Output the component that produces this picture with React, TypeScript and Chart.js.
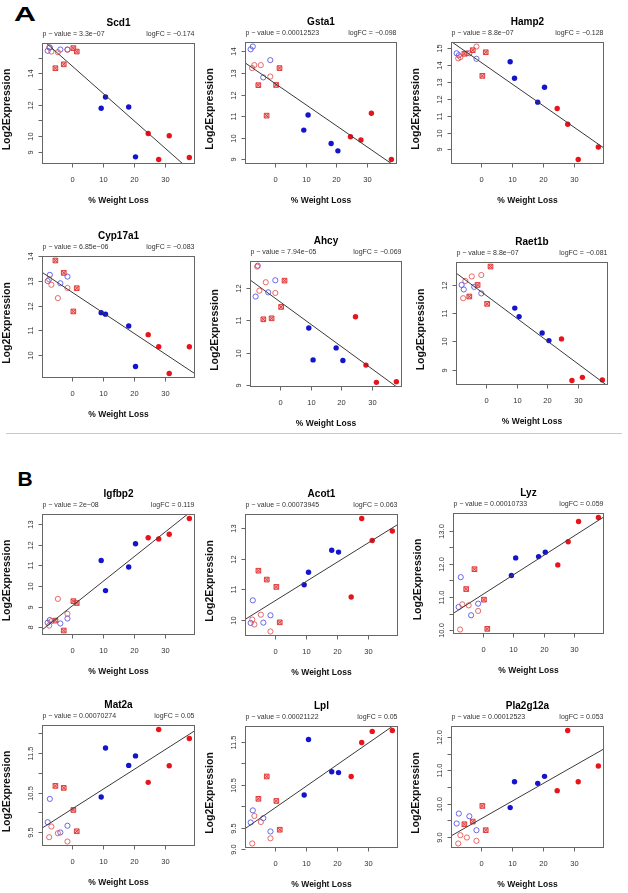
import React, { useEffect, useRef } from "react";
import { Chart, registerables } from "chart.js";
Chart.register(...registerables);

const FONT = '"Liberation Sans", Arial, Helvetica, sans-serif';

// % weight loss of each mouse, by group (shared by every gene)
const xOpenBlue = [-7.9, -7.2, -3.8, -1.5];
const xOpenRed = [-7.4, -6.7, -4.6, -1.5];
const xCrossRed = [-5.4, -2.7, 0.4, 1.5];
const xFilledBlue = [9.4, 10.8, 18.3, 20.5];
const xFilledRed = [24.6, 28.0, 31.4, 37.9];

const xTickValues = [0, 10, 20, 30];
const xTickLabels = ["0", "10", "20", "30"];

const genes = ["Scd1", "Gsta1", "Hamp2", "Cyp17a1", "Ahcy", "Raet1b", "Igfbp2", "Acot1", "Lyz", "Mat2a", "Lpl", "Pla2g12a"];
const pValues = ["3.3e\u221207", "0.00012523", "8.8e\u221207", "6.85e\u221206", "7.94e\u221205", "8.8e\u221207", "2e\u221208", "0.00073945", "0.00010733", "0.00070274", "0.00021122", "0.00012523"];
const logFCs = [-0.174, -0.098, -0.128, -0.083, -0.069, -0.081, 0.119, 0.063, 0.059, 0.05, 0.05, 0.053];

// Log2 expression per group: [open blue, open red, crossed red, filled blue, filled red]
const yScd1 = [[15.43, 15.64, 15.51, 15.51], [15.64, 15.38, 15.34, 15.5], [14.32, 14.57, 15.6, 15.38], [11.77, 12.49, 11.85, 8.68], [10.17, 8.51, 10.02, 8.64]];
const yGsta1 = [[14.1, 14.23, 12.8, 13.6], [13.23, 13.37, 13.37, 12.84], [12.44, 11.03, 12.45, 13.23], [10.36, 11.06, 9.74, 9.4], [10.05, 9.9, 11.14, 9.0]];
const yHamp2 = [[14.7, 14.58, 14.7, 14.37], [14.4, 14.47, 14.7, 15.1], [14.67, 14.88, 13.36, 14.76], [14.2, 13.22, 11.8, 12.68], [11.42, 10.49, 8.4, 9.14]];
const yCyp17a1 = [[13.0, 13.25, 12.91, 13.18], [13.07, 12.85, 12.31, 12.72], [13.83, 13.33, 11.77, 12.71], [11.72, 11.66, 11.18, 9.54], [10.83, 10.34, 9.26, 10.34]];
const yAhcy = [[11.73, 12.68, 11.86, 12.23], [12.65, 11.91, 12.17, 11.84], [11.03, 11.06, 11.41, 12.22], [10.76, 9.78, 10.15, 9.76], [11.11, 9.62, 9.09, 9.11]];
const yRaet1b = [[12.0, 11.84, 11.93, 11.7], [11.53, 12.14, 12.3, 12.35], [11.59, 12.0, 11.33, 12.65], [11.18, 10.88, 10.3, 10.03], [10.09, 8.62, 8.73, 8.64]];
const yIgfbp2 = [[8.22, 8.35, 8.18, 8.42], [8.08, 8.29, 9.37, 8.65], [8.32, 7.84, 9.26, 9.17], [11.23, 9.77, 10.91, 12.04], [12.33, 12.27, 12.5, 13.26]];
const yAcot1 = [[9.89, 10.63, 9.9, 10.14], [10.0, 9.84, 10.16, 9.61], [11.6, 11.31, 11.07, 9.91], [11.14, 11.55, 12.27, 12.21], [10.74, 13.31, 12.59, 12.9]];
const yLyz = [[10.7, 11.6, 10.45, 10.8], [10.02, 10.78, 10.75, 10.58], [11.24, 11.84, 10.92, 10.04], [11.65, 12.18, 12.22, 12.35], [11.97, 12.67, 13.28, 13.4]];
const yMat2a = [[9.75, 10.34, 9.49, 9.66], [9.37, 9.64, 9.47, 9.26], [10.67, 10.62, 10.06, 9.52], [10.39, 11.63, 11.19, 11.43], [10.76, 12.1, 11.18, 11.87]];
const yLpl = [[9.62, 9.9, 9.72, 9.41], [9.13, 9.77, 9.63, 9.25], [10.17, 10.69, 10.12, 9.45], [10.26, 11.55, 10.8, 10.78], [10.69, 11.48, 11.74, 11.76]];
const yPla2g12a = [[9.4, 9.7, 9.62, 9.2], [8.8, 9.05, 8.98, 8.88], [9.38, 9.46, 9.93, 9.2], [9.88, 10.66, 10.61, 10.82], [10.39, 12.2, 10.66, 11.13]];
const geneY = [yScd1, yGsta1, yHamp2, yCyp17a1, yAhcy, yRaet1b, yIgfbp2, yAcot1, yLyz, yMat2a, yLpl, yPla2g12a];

// y-axis tick values and their labels ("" = tick without label)
const yTicks = [
  [9, 10, 11, 12, 13, 14, 15],
  [9, 10, 11, 12, 13, 14],
  [9, 10, 11, 12, 13, 14, 15],
  [10, 11, 12, 13, 14],
  [9, 10, 11, 12],
  [9, 10, 11, 12],
  [8, 9, 10, 11, 12, 13],
  [10, 11, 12, 13],
  [10, 10.5, 11, 11.5, 12, 12.5, 13],
  [9.5, 10, 10.5, 11, 11.5, 12],
  [9, 9.5, 10, 10.5, 11, 11.5],
  [9, 9.5, 10, 10.5, 11, 11.5, 12],
];
const yTickLabels = [
  ["9", "10", "", "12", "", "14", ""],
  ["9", "10", "11", "12", "13", "14"],
  ["9", "10", "11", "12", "13", "14", "15"],
  ["10", "11", "12", "13", "14"],
  ["9", "10", "11", "12"],
  ["9", "10", "11", "12"],
  ["8", "9", "10", "11", "12", "13"],
  ["10", "11", "12", "13"],
  ["10.0", "", "11.0", "", "12.0", "", "13.0"],
  ["9.5", "", "10.5", "", "11.5", ""],
  ["9.0", "9.5", "", "10.5", "", "11.5"],
  ["9.0", "", "10.0", "", "11.0", "", "12.0"],
];

// layout: plot box [left, top, width, height] in page pixels
const BOXES = [
  [42, 43, 153, 121], [245, 42, 152, 122], [451, 42, 153, 122],
  [42, 256, 153, 122], [250, 261, 152, 126], [456, 262, 152, 123],
  [42, 514, 153, 121], [245, 514, 153, 122], [453, 513, 151, 121],
  [42, 725, 153, 121], [245, 726, 153, 122], [451, 726, 153, 122],
];

const PADL = 48, PADT = 32, PADR = 12, PADB = 48;

const mean = (a: number[]) => a.reduce((s, v) => s + v, 0) / a.length;
const fmtFC = (v: number) => (v < 0 ? "\u2212" + String(-v) : String(v));

function makePanelPlugin(i: number) {
  return {
    id: "rpanel" + i,
    afterDraw(chart: any) {
      const { ctx, chartArea: a, scales } = chart;
      const xs = scales.x, ys = scales.y;
      const L = Math.round(a.left) + 0.5, R = Math.round(a.right) - 0.5;
      const T = Math.round(a.top) + 0.5, B = Math.round(a.bottom) - 0.5;
      ctx.save();
      ctx.strokeStyle = "#666";
      ctx.lineWidth = 1;
      ctx.strokeRect(L, T, R - L, B - T);
      // x ticks
      ctx.fillStyle = "#333";
      ctx.font = `7.5px ${FONT}`;
      ctx.textAlign = "center";
      ctx.textBaseline = "middle";
      xTickValues.forEach((v, k) => {
        const p = Math.round(xs.getPixelForValue(v)) + 0.5;
        ctx.beginPath();
        ctx.moveTo(p, B);
        ctx.lineTo(p, B + 4);
        ctx.stroke();
        ctx.fillText(xTickLabels[k], p, B + 16);
      });
      // y ticks
      yTicks[i].forEach((v, k) => {
        const p = Math.round(ys.getPixelForValue(v)) + 0.5;
        ctx.beginPath();
        ctx.moveTo(L, p);
        ctx.lineTo(L - 4, p);
        ctx.stroke();
        const lab = yTickLabels[i][k];
        if (lab) {
          ctx.save();
          ctx.translate(L - 12, p);
          ctx.rotate(-Math.PI / 2);
          ctx.fillText(lab, 0, 0);
          ctx.restore();
        }
      });
      // axis titles
      ctx.fillStyle = "#111";
      ctx.font = `bold 8.5px ${FONT}`;
      ctx.fillText("% Weight Loss", (L + R) / 2, B + 37);
      ctx.save();
      ctx.translate(L - 35, (T + B) / 2 + 6);
      ctx.rotate(-Math.PI / 2);
      ctx.font = `bold 10.5px ${FONT}`;
      ctx.fillText("Log2Expression", 0, 0);
      ctx.restore();
      // title and statistics
      ctx.fillStyle = "#000";
      ctx.font = `bold 10px ${FONT}`;
      ctx.fillText(genes[i], (L + R) / 2, T - 20.5);
      ctx.fillStyle = "#333";
      ctx.font = `7px ${FONT}`;
      ctx.textAlign = "left";
      ctx.fillText("p \u2212 value = " + pValues[i], L, T - 9.5);
      ctx.textAlign = "right";
      ctx.fillText("logFC = " + fmtFC(logFCs[i]), R, T - 9.5);
      ctx.restore();
    },
  };
}

function Panel({ i }: { i: number }) {
  const ref = useRef<HTMLCanvasElement>(null);
  const [L, T, W, H] = BOXES[i];
  const cw = W + PADL + PADR, ch = H + PADT + PADB;
  useEffect(() => {
    const yv = geneY[i];
    const allX = [...xOpenBlue, ...xOpenRed, ...xCrossRed, ...xFilledBlue, ...xFilledRed];
    const allY = yv.flat();
    const xlo = Math.min(...allX), xhi = Math.max(...allX);
    const ylo = Math.min(...allY), yhi = Math.max(...allY);
    const padX = (xhi - xlo) * 0.04, padY = (yhi - ylo) * 0.04;
    const slope = logFCs[i];
    const icpt = mean(allY) - slope * mean(allX);
    const lineXs = [xlo - 10, xhi + 10];
    const pts = (xs: number[], ys: number[]) => xs.map((x, k) => ({ x, y: ys[k] }));
    const chart = new Chart(ref.current as HTMLCanvasElement, {
      type: "scatter",
      data: {
        datasets: [
          {
            data: lineXs.map((x) => ({ x, y: icpt + slope * x })),
            showLine: true,
            borderColor: "#3a3a3a",
            borderWidth: 1,
            pointRadius: 0,
          },
          { data: pts(xFilledRed, yv[4]), pointStyle: "circle", pointRadius: 2.7, backgroundColor: "#e8141c", borderWidth: 0 },
          { data: pts(xFilledBlue, yv[3]), pointStyle: "circle", pointRadius: 2.7, backgroundColor: "#1414cc", borderWidth: 0 },
          { data: pts(xCrossRed, yv[2]), pointStyle: "crossRot", pointRadius: 3.3, borderColor: "#e03c3c", borderWidth: 1, backgroundColor: "transparent" },
          { data: pts(xCrossRed, yv[2]), pointStyle: "rect", pointRadius: 3.3, borderColor: "#e03c3c", borderWidth: 1, backgroundColor: "rgba(240,130,130,0.55)" },
          { data: pts(xOpenRed, yv[1]), pointStyle: "circle", pointRadius: 2.6, borderColor: "rgba(228,70,70,0.8)", borderWidth: 1, backgroundColor: "transparent" },
          { data: pts(xOpenBlue, yv[0]), pointStyle: "circle", pointRadius: 2.6, borderColor: "rgba(70,70,228,0.8)", borderWidth: 1, backgroundColor: "transparent" },
        ],
      },
      options: {
        animation: false,
        responsive: false,
        devicePixelRatio: 1,
        events: [],
        layout: { padding: { left: PADL, top: PADT, right: PADR, bottom: PADB } },
        scales: {
          x: { type: "linear", display: false, min: xlo - padX, max: xhi + padX },
          y: { type: "linear", display: false, min: ylo - padY, max: yhi + padY },
        },
        plugins: { legend: { display: false }, tooltip: { enabled: false }, title: { display: false } },
      },
      plugins: [makePanelPlugin(i)],
    });
    return () => chart.destroy();
  }, [i]);
  return (
    <canvas
      ref={ref}
      width={cw}
      height={ch}
      style={{ position: "absolute", left: L - PADL, top: T - PADT, width: cw, height: ch }}
    />
  );
}

export default function App() {
  const letter: React.CSSProperties = {
    position: "absolute",
    fontFamily: FONT,
    fontWeight: "bold",
    fontSize: 21,
    lineHeight: "21px",
    color: "#000",
  };
  return (
    <div style={{ position: "absolute", left: 0, top: 0, width: 628, height: 893, background: "#fff", overflow: "hidden" }}>
      <div style={{ ...letter, left: 25, top: 12.5, transform: "translate(-50%,-50%) scaleX(1.45)" }}>A</div>
      <div style={{ ...letter, left: 25, top: 478, transform: "translate(-50%,-50%)" }}>B</div>
      <div style={{ position: "absolute", left: 6, top: 433, width: 616, height: 1, background: "#c8c8c8" }} />
      {genes.map((_, i) => (
        <Panel key={i} i={i} />
      ))}
    </div>
  );
}
